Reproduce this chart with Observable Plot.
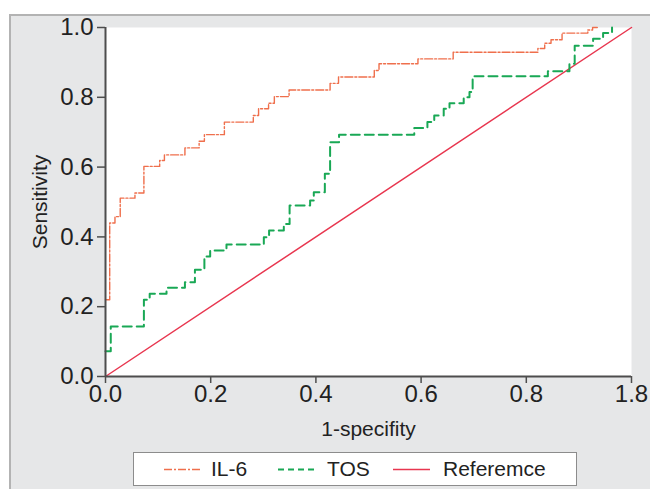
<!DOCTYPE html>
<html>
<head>
<meta charset="utf-8">
<script src="https://cdn.jsdelivr.net/npm/d3@7"></script>
<script src="https://cdn.jsdelivr.net/npm/@observablehq/plot@0.6"></script>
<style>
  html, body { margin: 0; padding: 0; background: #ffffff; width: 650px; height: 489px; overflow: hidden; }
  #panel { position: absolute; left: 9px; top: 14px; width: 720px; height: 520px; background: #e6e7e8; border: 2px solid #b3b3b3; box-sizing: border-box; }
  #chart { position: absolute; left: 0; top: 0; }
  #legend { position: absolute; left: 133px; top: 452px; width: 444px; height: 34px; background: #fff; border: 1px solid #8c8c8c; box-sizing: border-box; }
  #legend svg { position: absolute; left: 0; top: 0; }
  #legend span { position: absolute; top: 4px; font-family: "Liberation Sans", Arial, sans-serif; font-size: 21px; color: #222; line-height: 24px; }
  #chart svg g[aria-label="x-axis tick label"] text, #chart svg g[aria-label="y-axis tick label"] text { font-family: "Liberation Sans Narrow", "Arial Narrow", "Liberation Sans", Arial, sans-serif; font-stretch: condensed; }
</style>
</head>
<body>
<div id="panel"></div>
<div id="chart"></div>
<div id="legend"></div>
<script>
// ROC curve points (1-specificity, sensitivity), step-after
const il6Fpr = [0, 0.008, 0.018, 0.028, 0.056, 0.073, 0.103, 0.112, 0.151, 0.178, 0.188, 0.226, 0.281, 0.291, 0.310, 0.321, 0.349, 0.427, 0.443, 0.511, 0.520, 0.594, 0.661, 0.822, 0.835, 0.847, 0.868, 0.917, 0.926, 0.935];
const il6Tpr = [0.22, 0.44, 0.458, 0.511, 0.526, 0.602, 0.619, 0.635, 0.655, 0.674, 0.693, 0.729, 0.748, 0.767, 0.783, 0.802, 0.821, 0.840, 0.858, 0.877, 0.896, 0.910, 0.929, 0.940, 0.955, 0.965, 0.984, 0.993, 1.0, 1.0];

const tosFpr = [0, 0.010, 0.073, 0.084, 0.116, 0.151, 0.170, 0.188, 0.199, 0.230, 0.301, 0.311, 0.339, 0.350, 0.389, 0.396, 0.417, 0.427, 0.444, 0.587, 0.612, 0.625, 0.643, 0.654, 0.681, 0.692, 0.698, 0.841, 0.882, 0.892, 0.927, 0.946, 0.963];
const tosTpr = [0.072, 0.143, 0.220, 0.237, 0.254, 0.270, 0.306, 0.344, 0.361, 0.378, 0.399, 0.418, 0.437, 0.490, 0.504, 0.528, 0.581, 0.671, 0.693, 0.712, 0.729, 0.748, 0.767, 0.783, 0.800, 0.815, 0.860, 0.875, 0.896, 0.948, 0.968, 0.984, 1.0];

const refFpr = [0, 1];
const refTpr = [0, 1];

const xTicks = [0, 0.2, 0.4, 0.6, 0.8, 1.0];
const xTickLabels = ["0.0", "0.2", "0.4", "0.6", "0.8", "1.8"];
const yTicks = [0, 0.2, 0.4, 0.6, 0.8, 1.0];
const yTickLabels = ["0.0", "0.2", "0.4", "0.6", "0.8", "1.0"];

const seriesNames = ["IL-6", "TOS", "Referemce"];
const seriesColors = ["#ef6f4c", "#19a855", "#e8364f"];

const il6 = il6Fpr.map((x, i) => ({x, y: il6Tpr[i]}));
const tos = tosFpr.map((x, i) => ({x, y: tosTpr[i]}));
const ref = refFpr.map((x, i) => ({x, y: refTpr[i]}));

const axisColor = "#4d4d4d";
const font = "'Liberation Sans', Arial, sans-serif";

const plot = Plot.plot({
  width: 650,
  height: 445,
  marginLeft: 105,
  marginRight: 19,
  marginTop: 27,
  marginBottom: 69,
  style: { background: "transparent", fontFamily: font, fontSize: "21px", color: "#222", overflow: "visible" },
  x: { domain: [0, 1] },
  y: { domain: [0, 1] },
  marks: [
    Plot.frame({ fill: "white", stroke: null }),
    Plot.line(ref, { x: "x", y: "y", stroke: seriesColors[2], strokeWidth: 1.5 }),
    Plot.line(tos, { x: "x", y: "y", curve: "step-after", stroke: seriesColors[1], strokeWidth: 2, strokeDasharray: "9,5" }),
    Plot.line(il6, { x: "x", y: "y", curve: "step-after", stroke: seriesColors[0], strokeWidth: 1.4, strokeDasharray: "8,2,2,2" }),
    Plot.axisX({ ticks: xTicks, tickFormat: (d) => xTickLabels[xTicks.indexOf(d)], tickSize: 7, tickPadding: 1, stroke: axisColor, strokeWidth: 1.5, label: null, fontSize: 24 }),
    Plot.axisY({ ticks: yTicks, tickFormat: (d) => yTickLabels[yTicks.indexOf(d)], tickSize: 8, tickPadding: 4, stroke: axisColor, strokeWidth: 1.5, label: null, fontSize: 24 }),
    Plot.ruleX([0], { stroke: axisColor, strokeWidth: 2 }),
    Plot.ruleY([0], { stroke: axisColor, strokeWidth: 2 }),
    Plot.text(["1-specifity"], { frameAnchor: "bottom", lineAnchor: "middle", dy: 53, fontSize: 21, fill: "#222" }),
    Plot.text(["Sensitivity"], { frameAnchor: "left", textAnchor: "middle", lineAnchor: "middle", dx: -65, rotate: -90, fontSize: 21, fill: "#222" })
  ]
});
document.getElementById("chart").appendChild(plot);

// Legend
const legend = document.getElementById("legend");
const ns = "http://www.w3.org/2000/svg";
const lsvg = document.createElementNS(ns, "svg");
lsvg.setAttribute("width", 444);
lsvg.setAttribute("height", 34);
const sampleX = [30, 144, 259];
const textX = [77, 193, 309];
const dashes = ["8,2,2,2", "6,4", null];
const widths = [1.4, 2, 1.5];
seriesNames.forEach((name, i) => {
  const l = document.createElementNS(ns, "line");
  l.setAttribute("x1", sampleX[i]);
  l.setAttribute("x2", sampleX[i] + 37);
  l.setAttribute("y1", 16.5);
  l.setAttribute("y2", 16.5);
  l.setAttribute("stroke", seriesColors[i]);
  l.setAttribute("stroke-width", widths[i]);
  if (dashes[i]) l.setAttribute("stroke-dasharray", dashes[i]);
  lsvg.appendChild(l);
  const s = document.createElement("span");
  s.textContent = name;
  s.style.left = textX[i] + "px";
  legend.appendChild(s);
});
legend.insertBefore(lsvg, legend.firstChild);
</script>
</body>
</html>
